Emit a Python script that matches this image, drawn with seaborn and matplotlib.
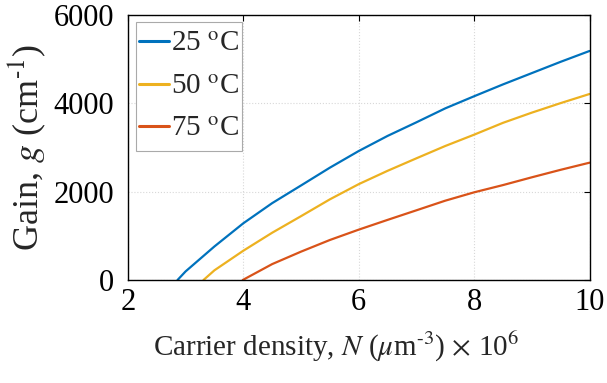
import numpy as np
import pandas as pd
import matplotlib
matplotlib.use("Agg")
import matplotlib.pyplot as plt
from matplotlib.patches import Rectangle
import seaborn as sns

# Data
n_25 = [2.86, 3.0, 3.5, 4.0, 4.5, 5.0, 5.5, 6.0, 6.5, 7.0, 7.5, 8.0, 8.5, 9.0, 9.5, 10.0]
g_25 = [0, 195, 760, 1284, 1740, 2140, 2543, 2920, 3262, 3570, 3886, 4160, 4428, 4684, 4940, 5185]
n_50 = [3.31, 3.5, 4.0, 4.5, 5.0, 5.5, 6.0, 6.5, 7.0, 7.5, 8.0, 8.5, 9.0, 9.5, 10.0]
g_50 = [0, 220, 663, 1070, 1445, 1826, 2170, 2472, 2755, 3034, 3290, 3558, 3789, 4005, 4211]
n_75 = [3.99, 4.5, 5.0, 5.5, 6.0, 6.5, 7.0, 7.5, 8.0, 8.5, 9.0, 9.5, 10.0]
g_75 = [0, 360, 642, 906, 1140, 1361, 1578, 1796, 1985, 2149, 2325, 2495, 2656]
labels = ["25 $^{\\rm o}$C", "50 $^{\\rm o}$C", "75 $^{\\rm o}$C"]
colors = ["#0072BD", "#EDB120", "#D95319"]
x_ticks = [2, 4, 6, 8, 10]
y_ticks = [0, 2000, 4000, 6000]

df = pd.concat([
    pd.DataFrame({"N": n, "g": g, "T": lab})
    for n, g, lab in zip([n_25, n_50, n_75], [g_25, g_50, g_75], labels)
])

sns.set_theme(style="white")
plt.rcParams["font.family"] = ["Liberation Serif", "DejaVu Serif"]
plt.rcParams["mathtext.fontset"] = "stix"

fig = plt.figure(figsize=(6.07, 3.83), dpi=100)
ax = fig.add_axes([0.2107, 0.2689, 0.7605, 0.692])

sns.lineplot(data=df, x="N", y="g", hue="T", palette=colors, sort=False,
             linewidth=1.6, ax=ax, estimator=None)

ax.set_xlim(2, 10)
ax.set_ylim(0, 6000)
ax.set_xticks(x_ticks)
ax.set_yticks(y_ticks)
ax.tick_params(axis="both", which="both", direction="in", length=4,
               width=0.8, top=True, right=True, labelsize=22, colors="black")
ax.tick_params(axis="y", pad=10)
ax.tick_params(axis="x", pad=6)
ax.grid(True, color="#d8d8d8", linestyle=":", linewidth=0.8)
for s in ax.spines.values():
    s.set_color("black")
    s.set_linewidth(1.0)

ax.set_xlabel("Carrier density, $N$ ($\\mu$m$^{\\text{-3}}$)$\\,\\times\\,$10$^6$",
              fontsize=21)
ax.xaxis.set_label_coords(0.452, -0.19)
ax.set_ylabel("Gain, $g$ (cm$^{\\text{-1}}$)", fontsize=26, labelpad=4)

leg = ax.legend(loc="upper left", bbox_to_anchor=(0.0174, 0.951),
                fontsize=21, handlelength=1.05, handletextpad=0.05,
                borderpad=0.1, labelspacing=0.55, borderaxespad=0.0,
                frameon=False)
for line in leg.get_lines():
    line.set_linewidth(2.2)

# legend frame with extra vertical padding (MATLAB style)
fig.canvas.draw()
bb = leg.get_window_extent().transformed(fig.transFigure.inverted())
padv = 6 / fig.bbox.height
frame = Rectangle((bb.x0, bb.y0 - padv), bb.width, bb.height + 2 * padv,
                  transform=fig.transFigure, facecolor="white",
                  edgecolor="#aaaaaa", linewidth=0.8, zorder=4)
ax.add_artist(frame)
frame.set_clip_on(False)
leg.set_zorder(5)

fig.savefig("out.png", dpi=100)
